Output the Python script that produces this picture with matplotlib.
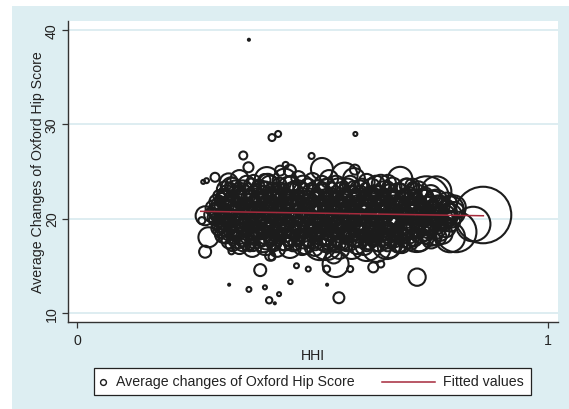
import numpy as np
import matplotlib
matplotlib.use("Agg")
import matplotlib.pyplot as plt
from matplotlib.patches import Rectangle

plt.rcParams['font.family'] = ['Liberation Sans', 'DejaVu Sans']

# hospital-level points: HHI, average change in Oxford Hip Score, weight (bubble area)
core_hhi = [0.322, 0.345, 0.375, 0.398, 0.441, 0.47, 0.50, 0.535, 0.568, 0.588, 0.615, 0.645, 0.712,
            0.314, 0.335, 0.352, 0.37, 0.39, 0.41, 0.43, 0.45, 0.47, 0.49, 0.51, 0.53, 0.555, 0.575, 0.60, 0.625, 0.65, 0.67, 0.70, 0.725,
            0.302, 0.318, 0.337, 0.356, 0.377, 0.396, 0.418, 0.437, 0.458, 0.479, 0.498, 0.521, 0.539, 0.561, 0.582, 0.601, 0.623, 0.642, 0.664, 0.683, 0.704, 0.727, 0.751,
            0.296, 0.312, 0.331, 0.349, 0.368, 0.389, 0.407, 0.428, 0.447, 0.468, 0.489, 0.508, 0.529, 0.549, 0.571, 0.59, 0.612, 0.632, 0.653, 0.674, 0.694, 0.716, 0.739, 0.762, 0.785,
            0.29, 0.305, 0.323, 0.342, 0.361, 0.38, 0.399, 0.419, 0.438, 0.457, 0.478, 0.497, 0.518, 0.538, 0.557, 0.578, 0.597, 0.618, 0.638, 0.659, 0.679, 0.70, 0.72, 0.745, 0.77, 0.795,
            0.285, 0.30, 0.316, 0.334, 0.352, 0.371, 0.39, 0.41, 0.429, 0.448, 0.468, 0.487, 0.507, 0.527, 0.546, 0.566, 0.587, 0.607, 0.627, 0.648, 0.668, 0.689, 0.71, 0.733, 0.757, 0.781, 0.80,
            0.293, 0.31, 0.328, 0.346, 0.365, 0.384, 0.403, 0.423, 0.442, 0.461, 0.481, 0.50, 0.52, 0.54, 0.559, 0.58, 0.60, 0.62, 0.64, 0.661, 0.681, 0.702, 0.724, 0.748, 0.772, 0.792,
            0.30, 0.318, 0.337, 0.355, 0.374, 0.394, 0.413, 0.432, 0.452, 0.471, 0.491, 0.51, 0.53, 0.55, 0.569, 0.589, 0.61, 0.63, 0.651, 0.671, 0.692, 0.713, 0.736, 0.76, 0.783,
            0.31, 0.328, 0.346, 0.365, 0.385, 0.404, 0.423, 0.443, 0.462, 0.482, 0.501, 0.521, 0.541, 0.56, 0.58, 0.60, 0.621, 0.641, 0.662, 0.683, 0.705, 0.728, 0.752, 0.776,
            0.322, 0.341, 0.362, 0.379, 0.401, 0.418, 0.441, 0.459, 0.481, 0.499, 0.522, 0.539, 0.561, 0.579, 0.602, 0.619, 0.641, 0.66, 0.682, 0.703, 0.727, 0.752,
            0.345, 0.372, 0.40, 0.425, 0.452, 0.478, 0.505, 0.53, 0.557, 0.583, 0.61, 0.636, 0.662, 0.69]
core_ohs = [23.85, 24.2, 23.9, 24.1, 24.03, 24.3, 24.0, 24.2, 24.56, 24.2, 23.9, 23.7, 23.5,
            23.1, 23.3, 23.0, 23.4, 23.1, 23.5, 23.0, 23.3, 23.1, 23.4, 23.0, 23.3, 23.1, 23.4, 23.0, 23.3, 23.1, 23.4, 23.2, 23.0,
            22.4, 22.7, 22.5, 22.8, 22.4, 22.6, 22.9, 22.5, 22.7, 22.4, 22.8, 22.6, 22.5, 22.9, 22.6, 22.4, 22.7, 22.5, 22.8, 22.6, 22.4, 22.7, 22.5,
            21.8, 22.0, 21.7, 22.1, 21.9, 21.6, 22.0, 21.8, 22.1, 21.7, 21.9, 22.2, 21.8, 21.6, 22.0, 21.9, 21.7, 22.1, 21.8, 22.0, 21.6, 21.9, 22.1, 21.8, 21.7,
            21.1, 21.3, 21.0, 21.4, 21.2, 21.0, 21.3, 21.1, 21.4, 21.2, 21.0, 21.3, 21.2, 21.0, 21.4, 21.1, 21.3, 21.2, 21.0, 21.4, 21.1, 21.3, 21.0, 21.2, 21.4, 21.1,
            20.4, 20.6, 20.5, 20.3, 20.7, 20.5, 20.4, 20.8, 20.5, 20.3, 20.6, 20.4, 20.7, 20.5, 20.3, 20.6, 20.5, 20.4, 20.7, 20.5, 20.3, 20.6, 20.4, 20.7, 20.5, 20.4, 20.6,
            19.9, 19.7, 20.0, 19.8, 19.6, 19.9, 20.0, 19.7, 19.8, 20.0, 19.6, 19.9, 19.8, 19.7, 20.0, 19.8, 19.6, 19.9, 20.0, 19.7, 19.8, 19.9, 19.6, 19.8, 20.0, 19.7,
            19.0, 19.2, 18.9, 19.1, 19.3, 19.0, 18.9, 19.2, 19.0, 19.3, 19.1, 18.9, 19.2, 19.0, 19.1, 19.3, 18.9, 19.1, 19.0, 19.2, 19.1, 18.9, 19.2, 19.0, 19.1,
            18.3, 18.5, 18.4, 18.2, 18.6, 18.4, 18.3, 18.5, 18.2, 18.4, 18.6, 18.3, 18.4, 18.5, 18.2, 18.4, 18.6, 18.3, 18.5, 18.4, 18.2, 18.5, 18.3, 18.4,
            17.6, 17.8, 17.5, 17.9, 17.7, 17.6, 17.8, 17.5, 17.7, 17.9, 17.6, 17.8, 17.5, 17.7, 17.9, 17.6, 17.7, 17.8, 17.5, 17.7, 17.6, 17.8,
            17.1, 16.9, 17.2, 16.8, 17.0, 17.1, 16.9, 17.2, 16.8, 17.0, 17.1, 16.9, 17.0, 17.2]
core_w = [81, 81, 49, 36, 144, 49, 64, 81, 169, 121, 64, 81, 49,
          64, 49, 100, 64, 81, 100, 64, 121, 81, 64, 100, 81, 121, 64, 100, 81, 64, 81, 100, 81,
          36, 64, 81, 49, 100, 64, 81, 49, 121, 64, 81, 100, 49, 81, 64, 100, 49, 81, 64, 121, 81, 64, 100,
          49, 81, 64, 100, 49, 81, 121, 64, 81, 49, 100, 64, 81, 121, 64, 81, 49, 100, 64, 81, 121, 64, 81, 144, 100,
          64, 36, 100, 64, 81, 49, 100, 64, 81, 121, 64, 81, 49, 100, 64, 81, 121, 64, 81, 49, 100, 81, 64, 121, 100, 144,
          49, 81, 64, 100, 49, 121, 64, 81, 100, 64, 81, 49, 121, 64, 100, 81, 64, 100, 49, 81, 121, 64, 100, 81, 144, 100, 121,
          36, 64, 81, 49, 100, 64, 81, 121, 64, 49, 100, 81, 64, 121, 81, 64, 100, 49, 81, 100, 64, 121, 81, 100, 144, 100,
          49, 100, 64, 81, 49, 121, 64, 81, 100, 64, 49, 100, 81, 64, 121, 81, 100, 64, 81, 121, 64, 100, 81, 121, 100,
          64, 49, 100, 81, 64, 121, 49, 81, 100, 64, 81, 121, 64, 100, 49, 81, 121, 64, 100, 81, 64, 100, 121, 100,
          49, 81, 64, 100, 81, 64, 121, 81, 64, 100, 81, 121, 64, 100, 81, 64, 121, 81, 100, 64, 100, 81,
          64, 81, 100, 64, 121, 81, 64, 225, 100, 144, 81, 196, 121, 64]

# second, offset layer of the dense centre
mid_hhi = [0.33, 0.36, 0.385, 0.405, 0.43, 0.455, 0.48, 0.52, 0.55, 0.58, 0.605, 0.635, 0.66, 0.70,
           0.308, 0.327, 0.347, 0.366, 0.386, 0.405, 0.426, 0.445, 0.466, 0.486, 0.505, 0.526, 0.546, 0.566, 0.586, 0.607, 0.628, 0.648, 0.669, 0.69, 0.711, 0.734, 0.758,
           0.298, 0.316, 0.335, 0.354, 0.373, 0.393, 0.412, 0.432, 0.451, 0.472, 0.492, 0.512, 0.532, 0.552, 0.573, 0.593, 0.614, 0.635, 0.655, 0.676, 0.697, 0.718, 0.742, 0.766, 0.79,
           0.293, 0.311, 0.33, 0.349, 0.368, 0.388, 0.407, 0.426, 0.446, 0.466, 0.486, 0.506, 0.526, 0.546, 0.566, 0.587, 0.607, 0.628, 0.648, 0.669, 0.69, 0.71, 0.733, 0.758, 0.782,
           0.29, 0.308, 0.325, 0.343, 0.362, 0.381, 0.40, 0.419, 0.439, 0.458, 0.477, 0.497, 0.516, 0.536, 0.556, 0.576, 0.596, 0.617, 0.637, 0.657, 0.678, 0.699, 0.72, 0.743, 0.766, 0.79,
           0.297, 0.315, 0.333, 0.351, 0.37, 0.389, 0.408, 0.428, 0.447, 0.467, 0.486, 0.506, 0.526, 0.545, 0.565, 0.585, 0.605, 0.625, 0.646, 0.666, 0.687, 0.708, 0.73, 0.754, 0.778,
           0.305, 0.323, 0.342, 0.36, 0.379, 0.399, 0.418, 0.438, 0.457, 0.477, 0.496, 0.516, 0.536, 0.555, 0.575, 0.595, 0.616, 0.636, 0.657, 0.678, 0.70, 0.722, 0.745, 0.77,
           0.315, 0.334, 0.353, 0.372, 0.392, 0.411, 0.431, 0.45, 0.47, 0.49, 0.51, 0.53, 0.55, 0.57, 0.59, 0.61, 0.63, 0.651, 0.672, 0.694, 0.716, 0.74, 0.765,
           0.33, 0.352, 0.374, 0.396, 0.418, 0.44, 0.462, 0.484, 0.506, 0.528, 0.55, 0.572, 0.594, 0.616, 0.638, 0.66, 0.684, 0.708]
mid_ohs = [23.6, 23.7, 23.5, 23.8, 23.6, 23.7, 23.5, 23.8, 23.6, 23.7, 23.5, 23.6, 23.8, 23.5,
           22.2, 22.1, 22.3, 22.2, 22.0, 22.3, 22.1, 22.2, 22.3, 22.0, 22.2, 22.1, 22.3, 22.2, 22.0, 22.2, 22.3, 22.1, 22.2, 22.0, 22.3, 22.2, 22.1,
           21.5, 21.6, 21.4, 21.6, 21.5, 21.7, 21.5, 21.4, 21.6, 21.5, 21.7, 21.5, 21.4, 21.6, 21.5, 21.7, 21.4, 21.6, 21.5, 21.5, 21.7, 21.4, 21.6, 21.5, 21.6,
           20.9, 20.8, 20.9, 21.0, 20.8, 20.9, 20.7, 20.9, 21.0, 20.8, 20.9, 20.8, 21.0, 20.9, 20.7, 20.9, 20.8, 21.0, 20.9, 20.8, 20.9, 20.7, 20.9, 21.0, 20.8,
           20.1, 20.2, 20.0, 20.2, 20.1, 20.3, 20.1, 20.0, 20.2, 20.1, 20.3, 20.1, 20.0, 20.2, 20.1, 20.3, 20.0, 20.2, 20.1, 20.2, 20.0, 20.1, 20.3, 20.1, 20.2, 20.0,
           19.4, 19.5, 19.3, 19.5, 19.4, 19.6, 19.4, 19.3, 19.5, 19.4, 19.6, 19.4, 19.3, 19.5, 19.4, 19.6, 19.3, 19.5, 19.4, 19.5, 19.3, 19.4, 19.6, 19.4, 19.5,
           18.7, 18.8, 18.6, 18.8, 18.7, 18.9, 18.7, 18.6, 18.8, 18.7, 18.9, 18.7, 18.6, 18.8, 18.7, 18.9, 18.6, 18.8, 18.7, 18.8, 18.6, 18.7, 18.9, 18.7,
           18.0, 18.1, 17.9, 18.1, 18.0, 18.2, 18.0, 17.9, 18.1, 18.0, 18.2, 18.0, 17.9, 18.1, 18.0, 18.2, 17.9, 18.1, 18.0, 18.1, 17.9, 18.0, 18.1,
           17.3, 17.4, 17.2, 17.4, 17.3, 17.5, 17.3, 17.2, 17.4, 17.3, 17.5, 17.3, 17.2, 17.4, 17.3, 17.5, 17.2, 17.4]
mid_w = [49, 64, 36, 81, 49, 64, 100, 49, 81, 64, 49, 81, 64, 49,
         25, 49, 36, 64, 49, 25, 64, 36, 49, 81, 36, 49, 25, 64, 49, 36, 81, 49, 36, 64, 49, 81, 64,
         36, 25, 49, 36, 64, 25, 49, 36, 81, 49, 25, 64, 36, 49, 64, 25, 49, 36, 81, 49, 36, 64, 49, 81, 64,
         49, 36, 25, 64, 36, 49, 25, 81, 36, 49, 64, 25, 49, 36, 81, 49, 36, 25, 64, 49, 36, 81, 49, 64, 100,
         36, 49, 25, 64, 36, 49, 81, 25, 49, 36, 64, 49, 25, 81, 36, 49, 64, 25, 49, 36, 81, 49, 64, 36, 81, 64,
         25, 49, 36, 64, 49, 25, 81, 36, 49, 64, 25, 49, 36, 81, 49, 36, 64, 25, 49, 81, 36, 64, 49, 81, 64,
         49, 36, 64, 25, 49, 81, 36, 49, 64, 25, 49, 36, 81, 49, 36, 64, 25, 49, 81, 36, 64, 49, 81, 100,
         36, 49, 64, 36, 81, 49, 36, 64, 49, 81, 36, 49, 64, 49, 81, 36, 64, 81, 100, 49, 64, 36, 81,
         49, 64, 36, 81, 49, 64, 36, 81, 49, 64, 100, 49, 81, 64, 49, 81, 64, 49]

# small hospitals packed inside the centre
inner_hhi = [0.325, 0.345, 0.362, 0.381, 0.401, 0.42, 0.44, 0.461, 0.48, 0.50, 0.52, 0.542, 0.565, 0.587, 0.612, 0.637, 0.66, 0.686, 0.713,
             0.31, 0.328, 0.347, 0.367, 0.387, 0.407, 0.428, 0.448, 0.469, 0.488, 0.51, 0.53, 0.55, 0.572, 0.592, 0.612, 0.633, 0.653, 0.673, 0.694, 0.716, 0.74,
             0.304, 0.322, 0.34, 0.359, 0.379, 0.398, 0.418, 0.437, 0.458, 0.478, 0.498, 0.518, 0.539, 0.56, 0.58, 0.601, 0.622, 0.643, 0.663, 0.684, 0.705, 0.728, 0.75,
             0.298, 0.314, 0.333, 0.352, 0.371, 0.39, 0.409, 0.428, 0.448, 0.468, 0.487, 0.508, 0.528, 0.548, 0.568, 0.588, 0.608, 0.628, 0.649, 0.669, 0.69, 0.71, 0.732, 0.757,
             0.293, 0.308, 0.325, 0.343, 0.362, 0.381, 0.40, 0.42, 0.439, 0.458, 0.478, 0.497, 0.517, 0.537, 0.556, 0.577, 0.597, 0.617, 0.638, 0.658, 0.679, 0.70, 0.721, 0.745, 0.769,
             0.301, 0.319, 0.337, 0.356, 0.375, 0.394, 0.413, 0.433, 0.452, 0.471, 0.491, 0.51, 0.53, 0.55, 0.57, 0.59, 0.61, 0.63, 0.651, 0.671, 0.692, 0.713, 0.736, 0.76,
             0.309, 0.327, 0.346, 0.365, 0.384, 0.404, 0.423, 0.442, 0.462, 0.481, 0.50, 0.52, 0.54, 0.56, 0.579, 0.60, 0.62, 0.64, 0.661, 0.682, 0.703, 0.725, 0.748,
             0.319, 0.337, 0.356, 0.375, 0.395, 0.414, 0.433, 0.453, 0.472, 0.492, 0.511, 0.531, 0.551, 0.57, 0.59, 0.61, 0.631, 0.651, 0.672, 0.694, 0.716, 0.74,
             0.331, 0.351, 0.37, 0.39, 0.41, 0.43, 0.45, 0.47, 0.49, 0.51, 0.53, 0.55, 0.57, 0.59, 0.61, 0.63, 0.651, 0.672, 0.693, 0.715]
inner_ohs = [23.3, 23.2, 23.35, 23.15, 23.3, 23.25, 23.2, 23.35, 23.3, 23.15, 23.25, 23.3, 23.2, 23.35, 23.25, 23.15, 23.3, 23.2, 23.25,
             22.55, 22.5, 22.6, 22.45, 22.55, 22.6, 22.5, 22.55, 22.45, 22.6, 22.55, 22.5, 22.6, 22.45, 22.55, 22.5, 22.6, 22.55, 22.45, 22.5, 22.6, 22.55,
             21.85, 21.8, 21.9, 21.75, 21.85, 21.9, 21.8, 21.85, 21.75, 21.9, 21.85, 21.8, 21.9, 21.75, 21.85, 21.8, 21.9, 21.85, 21.75, 21.8, 21.9, 21.85, 21.8,
             21.15, 21.1, 21.2, 21.05, 21.15, 21.2, 21.1, 21.15, 21.05, 21.2, 21.15, 21.1, 21.2, 21.05, 21.15, 21.1, 21.2, 21.15, 21.05, 21.1, 21.2, 21.15, 21.1, 21.2,
             20.5, 20.45, 20.55, 20.4, 20.5, 20.55, 20.45, 20.5, 20.4, 20.55, 20.5, 20.45, 20.55, 20.4, 20.5, 20.45, 20.55, 20.5, 20.4, 20.45, 20.55, 20.5, 20.45, 20.55, 20.5,
             19.8, 19.75, 19.85, 19.7, 19.8, 19.85, 19.75, 19.8, 19.7, 19.85, 19.8, 19.75, 19.85, 19.7, 19.8, 19.75, 19.85, 19.8, 19.7, 19.75, 19.85, 19.8, 19.75, 19.85,
             19.1, 19.05, 19.15, 19.0, 19.1, 19.15, 19.05, 19.1, 19.0, 19.15, 19.1, 19.05, 19.15, 19.0, 19.1, 19.05, 19.15, 19.1, 19.0, 19.05, 19.15, 19.1, 19.05,
             18.4, 18.35, 18.45, 18.3, 18.4, 18.45, 18.35, 18.4, 18.3, 18.45, 18.4, 18.35, 18.45, 18.3, 18.4, 18.35, 18.45, 18.4, 18.3, 18.35, 18.45, 18.4,
             17.7, 17.65, 17.75, 17.6, 17.7, 17.75, 17.65, 17.7, 17.6, 17.75, 17.7, 17.65, 17.75, 17.6, 17.7, 17.65, 17.75, 17.7, 17.6, 17.65]
inner_w = [25, 36, 16, 25, 36, 16, 25, 36, 25, 16, 36, 25, 16, 36, 25, 16, 36, 25, 36,
           36, 25, 16, 36, 25, 16, 36, 25, 36, 16, 25, 36, 16, 25, 36, 25, 16, 36, 25, 36, 25, 49,
           25, 36, 16, 25, 36, 16, 25, 36, 25, 16, 36, 25, 16, 36, 25, 16, 36, 25, 36, 25, 16, 36, 49,
           36, 25, 16, 36, 25, 16, 36, 25, 36, 16, 25, 36, 16, 25, 36, 25, 16, 36, 25, 36, 25, 16, 36, 49,
           25, 36, 16, 25, 36, 16, 25, 36, 25, 16, 36, 25, 16, 36, 25, 16, 36, 25, 36, 25, 16, 36, 25, 49, 49,
           36, 25, 16, 36, 25, 16, 36, 25, 36, 16, 25, 36, 16, 25, 36, 25, 16, 36, 25, 36, 25, 16, 36, 49,
           25, 36, 16, 25, 36, 16, 25, 36, 25, 16, 36, 25, 16, 36, 25, 16, 36, 25, 36, 25, 16, 36, 49,
           36, 25, 16, 36, 25, 16, 36, 25, 36, 16, 25, 36, 16, 25, 36, 25, 16, 36, 25, 36, 25, 49,
           25, 36, 16, 25, 36, 16, 25, 36, 25, 16, 36, 25, 16, 36, 25, 16, 36, 25, 36, 25]

fringe_hhi = [0.364, 0.353, 0.498, 0.520, 0.590, 0.686, 0.452, 0.431, 0.403, 0.328, 0.293, 0.275, 0.268, 0.443,
              0.279, 0.272, 0.328, 0.367, 0.410, 0.389, 0.466, 0.491, 0.530, 0.516, 0.580, 0.629, 0.658, 0.549, 0.545, 0.645,
              0.414, 0.272, 0.265, 0.297, 0.615]
fringe_ohs = [25.45, 26.7, 26.65, 25.27, 25.2, 24.2, 25.09, 25.09, 24.2, 23.33, 24.39, 24.03, 23.9, 25.7,
              18.03, 16.5, 16.54, 16.96, 16.07, 14.55, 15.01, 14.66, 14.66, 17.3, 14.66, 14.84, 17.31, 15.19, 16.1, 15.19,
              15.94, 20.31, 19.8, 19.3, 17.1]
fringe_w = [25, 16, 9, 121, 25, 150, 36, 25, 144, 100, 20, 6, 4, 9,
            100, 36, 9, 16, 25, 36, 6, 6, 12, 256, 9, 25, 225, 169, 64, 12,
            12, 90, 12, 25, 225]

big_hhi = [0.862, 0.841, 0.805, 0.742, 0.763, 0.792, 0.80, 0.775, 0.76, 0.721, 0.792]
big_ohs = [20.39, 19.43, 18.6, 22.08, 22.9, 20.3, 21.2, 20.6, 19.6, 18.37, 18.03]
big_w = [800, 300, 412, 520, 225, 144, 144, 225, 144, 324, 225]

out_hhi = [0.365, 0.414, 0.427, 0.591, 0.323, 0.365, 0.399, 0.408, 0.42, 0.429, 0.453, 0.531, 0.556, 0.722]
out_ohs = [38.97, 28.6, 28.98, 28.98, 13.0, 12.5, 12.72, 11.35, 11.03, 12.0, 13.3, 13.0, 11.62, 13.8]
out_w = [1, 12, 9, 4, 1, 6, 4, 10, 1, 4, 5, 1, 30, 75]

fit_hhi = [0.2626, 0.8627]
fit_ohs = [20.78, 20.31]

hhi = np.array(core_hhi + mid_hhi + inner_hhi + fringe_hhi + big_hhi + out_hhi)
ohs = np.array(core_ohs + mid_ohs + inner_ohs + fringe_ohs + big_ohs + out_ohs)
w = np.array(core_w + mid_w + inner_w + fringe_w + big_w + out_w, dtype=float)

W, H = 569, 410
fig = plt.figure(figsize=(W / 100, H / 100), dpi=100, facecolor='white')

# light blue graph region behind everything
bga = fig.add_axes([0, 0, 1, 1], zorder=-1)
bga.set_xlim(0, W)
bga.set_ylim(H, 0)
bga.axis('off')
bga.add_patch(Rectangle((12, 7), W - 12, H - 7, facecolor='#ddeef2', edgecolor='none'))

ax = fig.add_axes([68 / W, 1 - 323 / H, (558 - 68) / W, (323 - 21.7) / H], zorder=1)
ax.set_facecolor('white')
ax.set_xlim(-0.0191, 1.0212)
ax.set_ylim(9.046, 40.99)

for y in [10, 20, 30, 40]:
    ax.axhline(y, color='#d5e8ee', lw=1.1, zorder=1)

ax.scatter(hhi, ohs, s=w * 2.07, facecolors='none', edgecolors='#1c1c1c', linewidths=1.5, zorder=2)
ax.plot(fit_hhi, fit_ohs, color='#a52a3c', lw=1.1, zorder=3)

ax.set_xticks([0, 1])
ax.set_xticklabels(['0', '1'])
ax.set_yticks([10, 20, 30, 40])
ax.tick_params(axis='both', direction='out', length=4.5, width=0.9, color='#333333',
               labelsize=10.2, labelcolor='#222222', pad=3.5)
ax.tick_params(axis='y', labelrotation=90, pad=2)
for lab in ax.get_yticklabels():
    lab.set_va('center')
for side in ['top', 'right']:
    ax.spines[side].set_visible(False)
for side in ['left', 'bottom']:
    ax.spines[side].set_color('#333333')
    ax.spines[side].set_linewidth(1.0)

ax.set_xlabel('HHI', fontsize=10.2, color='#222222', labelpad=1)
ax.set_ylabel('Average Changes of Oxford Hip Score', fontsize=10.2, color='#222222', labelpad=0)

# legend drawn in pixel coordinates
lg = fig.add_axes([0, 0, 1, 1], zorder=5)
lg.set_xlim(0, W)
lg.set_ylim(H, 0)
lg.axis('off')
lg.patch.set_alpha(0)
lg.add_patch(Rectangle((94, 369), 437, 27, facecolor='white', edgecolor='#222222', lw=0.9))
lg.plot([102.7], [382.5], marker='o', ms=4.2, mfc='none', mec='#1c1c1c', mew=1.0)
lg.text(115.7, 382.5, 'Average changes of Oxford Hip Score', fontsize=10.2, color='#222222',
        va='center', ha='left')
lg.plot([381.7, 435], [382.5, 382.5], color='#a52a3c', lw=1.1)
lg.text(443, 382.5, 'Fitted values', fontsize=10.2, color='#222222', va='center', ha='left')

fig.savefig('out.png', dpi=100, facecolor='white')
